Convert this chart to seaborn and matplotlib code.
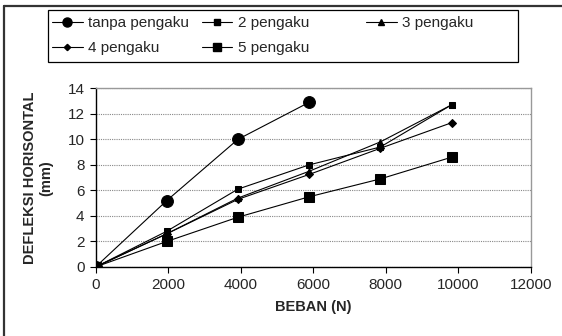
import matplotlib
matplotlib.use("Agg")
import matplotlib.pyplot as plt
import seaborn as sns
import pandas as pd
from matplotlib.lines import Line2D
from matplotlib.patches import Rectangle

sns.set_style("white")
plt.rcParams['font.family'] = ['Liberation Sans', 'DejaVu Sans']

beban = [0, 1962, 3924, 5886, 7848, 9810]
tanpa_pengaku = [0, 5.2, 10.0, 12.9]
pengaku_2 = [0, 2.8, 6.1, 8.0, 9.4, 12.7]
pengaku_3 = [0, 2.6, 5.4, 7.5, 9.8, 12.7]
pengaku_4 = [0, 2.6, 5.3, 7.25, 9.3, 11.3]
pengaku_5 = [0, 2.0, 3.9, 5.5, 6.9, 8.6]

series_names = ["tanpa pengaku", "2 pengaku", "3 pengaku", "4 pengaku", "5 pengaku"]
series_vals = [tanpa_pengaku, pengaku_2, pengaku_3, pengaku_4, pengaku_5]
markers = ["o", "s", "^", "D", "s"]
msizes = [8.5, 4.3, 4.8, 4.0, 7.5]

x_ticks = [0, 2000, 4000, 6000, 8000, 10000, 12000]
y_ticks = [0, 2, 4, 6, 8, 10, 12, 14]

rows = []
for name, vals in zip(series_names, series_vals):
    for b, v in zip(beban, vals):
        rows.append({"beban": b, "defleksi": v, "seri": name})
df = pd.DataFrame(rows)

W, H = 562, 336
fig = plt.figure(figsize=(W/100, H/100), dpi=100)
ax = fig.add_axes([95.5/W, 1-267/H, (531-95.5)/W, (267-88.3)/H])

handles = {}
for name, m, ms in zip(series_names, markers, msizes):
    sub = df[df["seri"] == name]
    sns.lineplot(data=sub, x="beban", y="defleksi", ax=ax, color="black",
                 marker=m, markersize=ms, markeredgecolor="black",
                 markerfacecolor="black", linewidth=0.8, legend=False,
                 sort=False, estimator=None)
    hs = {"o": 6.5, "s": ms*0.85}.get(m, ms*0.8)
    handles[name] = Line2D([], [], color="black", marker=m, markersize=hs,
                           linewidth=0.8, markerfacecolor="black", markeredgecolor="black")

ax.set_xlim(0, 12000)
ax.set_ylim(0, 14)
ax.set_xticks(x_ticks)
ax.set_yticks(y_ticks)
ax.set_xticklabels([str(t) for t in x_ticks], fontsize=11)
ax.set_yticklabels([str(t) for t in y_ticks], fontsize=11)
ax.yaxis.grid(True, color="#888888", linestyle=(0, (1, 1)), linewidth=0.8)
ax.xaxis.grid(False)
ax.set_axisbelow(True)
for s in ["top", "right"]:
    ax.spines[s].set_color("#999999")
    ax.spines[s].set_linewidth(1.0)
for s in ["left", "bottom"]:
    ax.spines[s].set_color("black")
    ax.spines[s].set_linewidth(1.0)
ax.tick_params(axis="both", direction="out", length=4, width=0.8, color="black",
               bottom=True, left=True, pad=4)

ax.set_xlabel("BEBAN (N)", fontsize=10.5, fontweight="bold", labelpad=6)
ax.set_ylabel("DEFLEKSI HORISONTAL\n(mm)", fontsize=10.5, fontweight="bold", labelpad=10)

leg_kw = dict(fontsize=11, frameon=False, handlelength=2.0, handletextpad=0.35,
              borderpad=0, labelspacing=0.75, borderaxespad=0, loc="upper left")
order12 = ["tanpa pengaku", "4 pengaku", "2 pengaku", "5 pengaku"]
leg1 = fig.legend([handles[n] for n in order12], order12, ncol=2,
                  bbox_to_anchor=(52/W, 1-16/H), columnspacing=0.85, **leg_kw)
leg2 = fig.legend([handles["3 pengaku"]], ["3 pengaku"], ncol=1,
                  bbox_to_anchor=(366/W, 1-16/H), **leg_kw)

fig.add_artist(Rectangle((48/W, 1-61.5/H), 470/W, 51.5/H, transform=fig.transFigure,
                         fill=False, edgecolor="black", linewidth=0.9))

# outer frame lines (left and top)
fig.add_artist(Line2D([3.5/W, 3.5/W], [0, 1-6/H], transform=fig.transFigure,
                      color="#333333", linewidth=1.6))
fig.add_artist(Line2D([3.5/W, 1], [1-6/H, 1-6/H], transform=fig.transFigure,
                      color="#333333", linewidth=1.6))

fig.savefig("out.png", dpi=100)
